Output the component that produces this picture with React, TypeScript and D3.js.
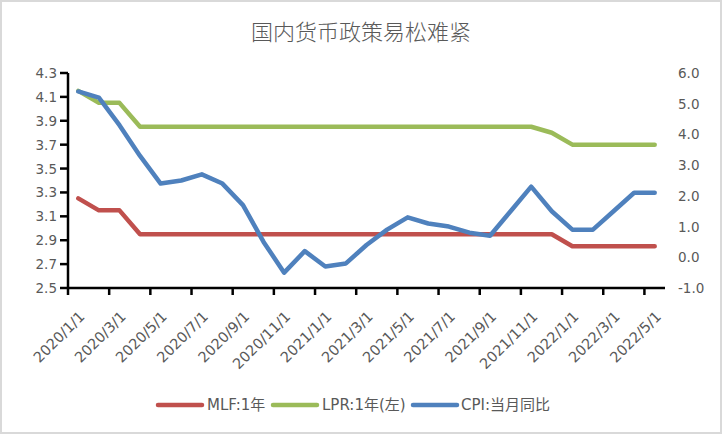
import React from "react";
import { scaleBand, scaleLinear, line, range } from "d3";

// monthly, 2020/1 .. 2022/5
const months = [
  "2020/1/1", "2020/2/1", "2020/3/1", "2020/4/1", "2020/5/1", "2020/6/1",
  "2020/7/1", "2020/8/1", "2020/9/1", "2020/10/1", "2020/11/1", "2020/12/1",
  "2021/1/1", "2021/2/1", "2021/3/1", "2021/4/1", "2021/5/1", "2021/6/1",
  "2021/7/1", "2021/8/1", "2021/9/1", "2021/10/1", "2021/11/1", "2021/12/1",
  "2022/1/1", "2022/2/1", "2022/3/1", "2022/4/1", "2022/5/1",
];

const mlf = [
  3.25, 3.15, 3.15, 2.95, 2.95, 2.95, 2.95, 2.95, 2.95, 2.95, 2.95, 2.95,
  2.95, 2.95, 2.95, 2.95, 2.95, 2.95, 2.95, 2.95, 2.95, 2.95, 2.95, 2.95,
  2.85, 2.85, 2.85, 2.85, 2.85,
];
const lpr = [
  4.15, 4.05, 4.05, 3.85, 3.85, 3.85, 3.85, 3.85, 3.85, 3.85, 3.85, 3.85,
  3.85, 3.85, 3.85, 3.85, 3.85, 3.85, 3.85, 3.85, 3.85, 3.85, 3.85, 3.8,
  3.7, 3.7, 3.7, 3.7, 3.7,
];
const cpi = [
  5.4, 5.2, 4.3, 3.3, 2.4, 2.5, 2.7, 2.4, 1.7, 0.5, -0.5, 0.2,
  -0.3, -0.2, 0.4, 0.9, 1.3, 1.1, 1.0, 0.8, 0.7, 1.5, 2.3, 1.5,
  0.9, 0.9, 1.5, 2.1, 2.1,
];

const leftTicks = [2.5, 2.7, 2.9, 3.1, 3.3, 3.5, 3.7, 3.9, 4.1, 4.3];
const rightTicks = [-1, 0, 1, 2, 3, 4, 5, 6];

const seriesNames = ["MLF:1年", "LPR:1年(左)", "CPI:当月同比"];
const colors = ["#c0504d", "#9bbb59", "#4f81bd"];

const W = 722;
const H = 434;
const font = "'DejaVu Sans', 'Noto Sans CJK SC', sans-serif";
const textColor = "#595959";

export default function App() {
  const left = 68;
  const right = 665;
  const top = 73;
  const bottom = 288;

  const x = scaleBand().domain(months).range([left, right]).padding(0);
  const yL = scaleLinear().domain([2.5, 4.3]).range([bottom, top]);
  const yR = scaleLinear().domain([-1, 6]).range([bottom, top]);
  const cx = (i: number) => (x(months[i]) as number) + x.bandwidth() / 2;

  const lineL = line<number>().x((_, i) => cx(i)).y((d) => yL(d));
  const lineR = line<number>().x((_, i) => cx(i)).y((d) => yR(d));

  const paths = [lineL(mlf), lineL(lpr), lineR(cpi)];

  const labelIdx = range(0, months.length, 2);

  // legend layout
  const legendY = 405;
  const legendItems = [
    { x: 158, tx: 207 },
    { x: 273, tx: 322 },
    { x: 413, tx: 461 },
  ];

  return (
    <svg
      width={W}
      height={H}
      style={{ position: "absolute", left: 0, top: 0, background: "#fff" }}
      fontFamily={font}
    >
      <rect x={1} y={1} width={W - 2} height={H - 2} fill="#fff" stroke="#d9d9d9" strokeWidth={2} />

      <text
        x={361}
        y={30}
        textAnchor="middle"
        dominantBaseline="central"
        fontSize={22}
        fontWeight={300}
        fill={textColor}
        fontFamily="'Noto Sans CJK SC', sans-serif"
      >
        国内货币政策易松难紧
      </text>

      {/* left axis */}
      <line x1={left} x2={left} y1={top} y2={bottom} stroke="#000" strokeWidth={2.5} />
      {leftTicks.map((t) => (
        <g key={`l-${t}`}>
          <line x1={left - 8} x2={left} y1={yL(t)} y2={yL(t)} stroke="#000" strokeWidth={2.5} />
          <text x={57} y={yL(t)} textAnchor="end" dominantBaseline="central" fontSize={13.5} fill={textColor}>
            {t.toFixed(1)}
          </text>
        </g>
      ))}

      {/* right axis labels */}
      {rightTicks.map((t) => (
        <text key={`r-${t}`} x={678} y={yR(t)} dominantBaseline="central" fontSize={13.5} fill={textColor}>
          {t.toFixed(1)}
        </text>
      ))}

      {/* bottom axis */}
      <line x1={left - 1} x2={right} y1={bottom} y2={bottom} stroke="#000" strokeWidth={2.5} />
      {labelIdx.map((i) => {
        const tx = x(months[i]) as number;
        return (
          <g key={`b-${i}`}>
            <line x1={tx} x2={tx} y1={bottom} y2={bottom + 7} stroke="#000" strokeWidth={2.5} />
            <text
              transform={`translate(${tx + 14},${314}) rotate(-45)`}
              textAnchor="end"
              dominantBaseline="central"
              fontSize={14.5}
              fill={textColor}
            >
              {months[i]}
            </text>
          </g>
        );
      })}

      {/* series */}
      {paths.map((d, i) => (
        <path
          key={`s-${i}`}
          d={d || ""}
          fill="none"
          stroke={colors[i]}
          strokeWidth={4.5}
          strokeLinejoin="round"
          strokeLinecap="round"
        />
      ))}

      {/* legend */}
      {legendItems.map((it, i) => (
        <g key={`lg-${i}`}>
          <line x1={it.x} x2={it.x + 44} y1={legendY} y2={legendY} stroke={colors[i]} strokeWidth={4.5} strokeLinecap="round" />
          <text x={it.tx} y={legendY} dominantBaseline="central" fontSize={15} fill={textColor}>
            {seriesNames[i]}
          </text>
        </g>
      ))}
    </svg>
  );
}
